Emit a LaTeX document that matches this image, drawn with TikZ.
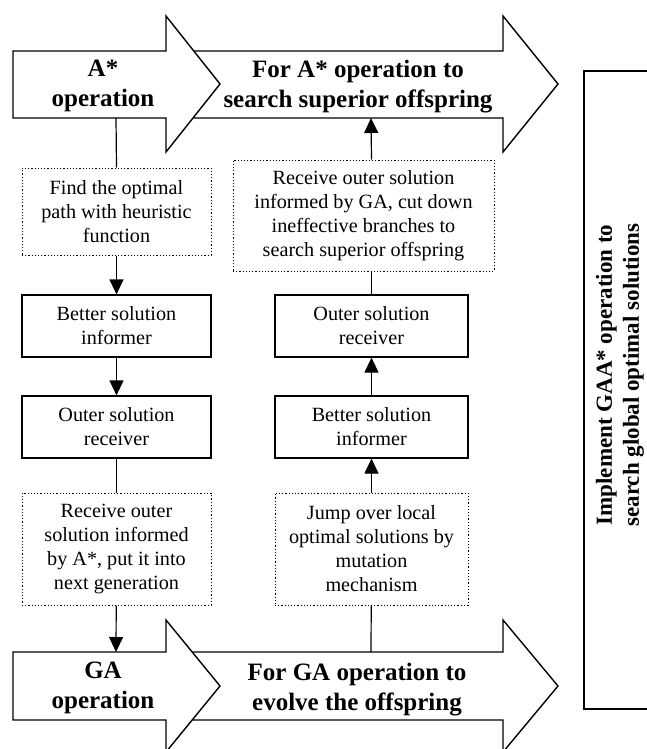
\documentclass[tikz,border=0pt]{standalone}
\usepackage{fontspec}
\setmainfont{Liberation Serif}
\usetikzlibrary{arrows.meta,positioning}

\begin{document}
\begin{tikzpicture}[x=0.5pt, y=-0.5pt,
    box/.style={rectangle, draw, line width=0.6pt, minimum width=94.5pt, minimum height=31pt, inner sep=0pt, align=center, font=\fontsize{10.1}{12}\selectfont},
    dotbox/.style={box, densely dotted, line width=0.5pt},
    bigarrow/.style={draw, fill=white, line width=0.7pt},
    optext/.style={align=center, font=\bfseries\fontsize{12.5}{15}\selectfont},
    flow/.style={line width=0.6pt, -{Triangle[length=7.5pt,width=7pt]}},
    link/.style={line width=0.6pt}
]
    \useasboundingbox (0,0) rectangle (647,749);

    % Top arrows: A* side
    \draw[bigarrow] (166,51) -- (503,51) -- (503,16) -- (558,84) -- (503,152) -- (503,118) -- (166,118) -- cycle;
    \draw[bigarrow] (13,51) -- (166,51) -- (166,16) -- (220,84) -- (166,152) -- (166,118) -- (13,118) -- cycle;
    \node[optext] (astar) at (103,86) {A*\\operation};
    \node[optext] (astarfor) at (358,87) {For A* operation to\\search superior offspring};
    \coordinate (astar-out) at (116,118);
    \coordinate (astar-in) at (371,118);

    % Bottom arrows: GA side
    \draw[bigarrow] (166,652) -- (503,652) -- (503,620) -- (558,686) -- (503,752) -- (503,720) -- (166,720) -- cycle;
    \draw[bigarrow] (13,652) -- (166,652) -- (166,620) -- (220,686) -- (166,752) -- (166,720) -- (13,720) -- cycle;
    \node[optext] (ga) at (103,688) {GA\\operation};
    \node[optext] (gafor) at (357,690) {For GA operation to\\evolve the offspring};
    \coordinate (ga-in) at (116,652);
    \coordinate (ga-out) at (371,652);

    % Left column
    \node[dotbox, minimum height=43.5pt] (lfind) at (116.5,211.5) {Find the optimal\\path with heuristic\\function};
    \node[box] (lbetter) at (116.5,326) {Better solution\\informer};
    \node[box] (louter) at (116.5,427) {Outer solution\\receiver};
    \node[dotbox, minimum height=56pt] (lrecv) at (116.5,549) {Receive outer\\solution informed\\by A*, put it into\\next generation};

    % Right column
    \node[dotbox, minimum width=130.5pt, minimum height=55.5pt] (rrecv) at (363.5,215.5) {Receive outer solution\\informed by GA, cut down\\ineffective branches to\\search superior offspring};
    \node[box, minimum width=96.5pt] (router) at (371.5,326) {Outer solution\\receiver};
    \node[box, minimum width=96.5pt] (rbetter) at (371.5,427) {Better solution\\informer};
    \node[dotbox, minimum width=96.5pt, minimum height=56pt] (rjump) at (371.5,549) {Jump over local\\optimal solutions by\\mutation\\mechanism};

    % GAA* frame
    \node[draw, line width=1pt, minimum width=38pt, minimum height=319pt] (gaabox) at (622,390) {};
    \node[rotate=90, align=center, font=\bfseries\fontsize{11.5}{13.5}\selectfont] (gaa) at (620,375) {Implement GAA* operation to\\search global optimal solutions};

    % Connectors
    \draw[link] (astar-out) -- (lfind.north);
    \draw[flow] (lfind) -- (lbetter);
    \draw[flow] (lbetter) -- (louter);
    \draw[link] (louter) -- (lrecv);
    \draw[flow] (lrecv) -- (ga-in);
    \draw[link] (ga-out) -- (rjump);
    \draw[flow] (rjump) -- (rbetter);
    \draw[flow] (rbetter) -- (router);
    \draw[link] (router.north) -- (router.north |- rrecv.south);
    \draw[flow] (rrecv.north -| router.north) -- (astar-in);
\end{tikzpicture}
\end{document}
